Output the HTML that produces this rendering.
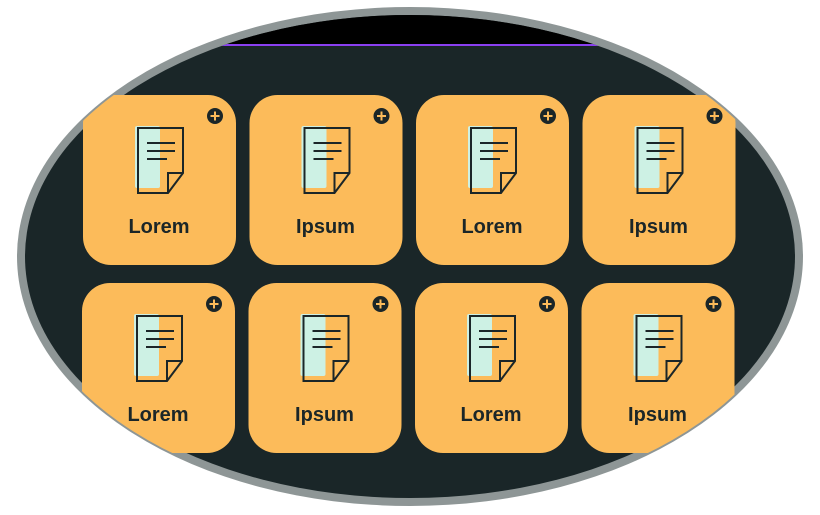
<!DOCTYPE html>
<html><head><meta charset="utf-8"><style>
html,body{margin:0;padding:0;background:#fff;width:820px;height:515px;overflow:hidden;font-family:"Liberation Sans",sans-serif}
</style></head><body>
<svg width="820" height="515" viewBox="0 0 820 515">
<defs>
<clipPath id="inner"><ellipse cx="410" cy="256.5" rx="385" ry="241.5"/></clipPath>
<clipPath id="outer"><ellipse cx="410" cy="256.5" rx="391" ry="247.5"/></clipPath>
<g id="doc">
<rect x="52" y="31" width="25" height="62" rx="2" fill="#cdf1e4"/>
<path d="M55 33 H100 V78 L85 98 H55 Z" fill="none" stroke="#1b2628" stroke-width="2"/>
<path d="M100 78 H85 V98" fill="none" stroke="#1b2628" stroke-width="2"/>
<line x1="64" y1="48" x2="92" y2="48" stroke="#1b2628" stroke-width="2"/>
<line x1="64" y1="56" x2="92" y2="56" stroke="#1b2628" stroke-width="2"/>
<line x1="64" y1="64" x2="84" y2="64" stroke="#1b2628" stroke-width="2"/>
</g>
</defs>
<ellipse cx="410" cy="256.5" rx="393" ry="249.5" fill="#8e9696"/>
<ellipse cx="410" cy="256.5" rx="385" ry="241.5" fill="#1a2628"/>
<g clip-path="url(#inner)">
<rect x="0" y="0" width="820" height="44" fill="#000"/>
<rect x="210" y="44" width="400" height="2" fill="#8a3ff0"/>
</g>
<g clip-path="url(#outer)"><g id="cards"></g></g>
</svg>
<script>
const labels=["Lorem","Ipsum","Lorem","Ipsum","Lorem","Ipsum","Lorem","Ipsum"];
const g=document.getElementById('cards');
const NS="http://www.w3.org/2000/svg";
labels.forEach((t,i)=>{
 const r=Math.floor(i/4),c=i%4;
 const x=83+c*166.5-r, y=95+r*188;
 const card=document.createElementNS(NS,'g');
 card.setAttribute('transform',`translate(${x},${y})`);
 
 
 card.innerHTML=`<rect width="153" height="170" rx="28" fill="#fcbb5a"/>
 <use href="#doc"/>
 <text x="76" y="138" text-anchor="middle" font-size="20" font-weight="bold" fill="#1b2628" font-family="Liberation Sans, sans-serif">${t}</text>`;
 const plus=document.createElementNS(NS,'g');
 
 
 plus.innerHTML=`<circle cx="132" cy="21" r="8" fill="#1b2628"/><path d="M127.5 21h9M132 16.5v9" stroke="#fcbb5a" stroke-width="2"/>`;
 card.appendChild(plus);
 g.appendChild(card);
});
</script>
</body></html>
